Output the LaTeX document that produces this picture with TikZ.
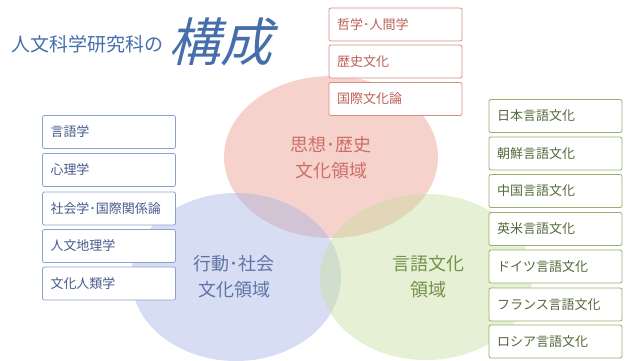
\documentclass[tikz,border=0pt]{standalone}
\usepackage{fontspec}
\newfontfamily\cjk{Noto Sans CJK JP}
\newfontfamily\cjkslant[FakeSlant=0.25]{Noto Sans CJK JP}
\definecolor{titleblue}{RGB}{70,110,170}
\definecolor{redfill}{RGB}{236,155,145}
\definecolor{bluefill}{RGB}{160,175,225}
\definecolor{greenfill}{RGB}{200,222,160}
\definecolor{redline}{RGB}{215,140,130}
\definecolor{redtext}{RGB}{190,95,85}
\definecolor{blueline}{RGB}{140,160,205}
\definecolor{bluetext}{RGB}{70,90,140}
\definecolor{greenline}{RGB}{150,175,105}
\definecolor{greentext}{RGB}{85,105,60}
\definecolor{redlabel}{RGB}{205,110,100}
\definecolor{bluelabel}{RGB}{95,115,165}
\definecolor{greenlabel}{RGB}{115,145,75}
\tikzset{
  itembox/.style={draw, line width=0.8pt, rounded corners=2pt, fill=white,
    minimum height=33pt, text width=117pt, inner xsep=8pt, inner ysep=0pt,
    align=left, font=\cjk\fontsize{13}{15}\selectfont},
  redbox/.style={itembox, draw=redline, text=redtext},
  bluebox/.style={itembox, draw=blueline, text=bluetext},
  greenbox/.style={itembox, draw=greenline, text=greentext},
  arealabel/.style={align=center, font=\cjk\fontsize{18}{26}\selectfont}
}
\begin{document}
\begin{tikzpicture}[x=1pt,y=-1pt]
\useasboundingbox (0,0) rectangle (625,360);
% ellipses
\fill[redfill, opacity=0.45] (331,157) ellipse [x radius=107pt, y radius=81pt];
\fill[bluefill, opacity=0.42] (236,277) ellipse [x radius=105pt, y radius=84pt];
\fill[greenfill, opacity=0.45] (426,277) ellipse [x radius=106pt, y radius=83pt];
% title
\node[anchor=base west, inner sep=0pt, text=titleblue, font=\cjk\fontsize{19}{22}\selectfont] (title1) at (11,51) {人文科学研究科の};
\node[anchor=base west, inner sep=0pt, text=titleblue, font=\cjkslant\fontsize{52}{56}\selectfont] (title2) at (168,61) {構成};
% area labels
\node[arealabel, text=redlabel] (redarea) at (331,158) {思想･歴史\\文化領域};
\node[arealabel, text=bluelabel] (bluearea) at (234,277) {行動･社会\\文化領域};
\node[arealabel, text=greenlabel] (greenarea) at (428,277) {言語文化\\領域};
% red boxes
\node[redbox] (r1) at (395.5,24.5) {哲学･人間学};
\node[redbox] (r2) at (395.5,61.5) {歴史文化};
\node[redbox] (r3) at (395.5,99) {国際文化論};
% blue boxes
\node[bluebox] (b1) at (109,132) {言語学};
\node[bluebox] (b2) at (109,170) {心理学};
\node[bluebox] (b3) at (109,208.5) {社会学･国際関係論};
\node[bluebox] (b4) at (109,246) {人文地理学};
\node[bluebox] (b5) at (109,283.5) {文化人類学};
% green boxes
\node[greenbox] (g1) at (555.5,116) {日本言語文化};
\node[greenbox] (g2) at (555.5,153.5) {朝鮮言語文化};
\node[greenbox] (g3) at (555.5,191) {中国言語文化};
\node[greenbox] (g4) at (555.5,229) {英米言語文化};
\node[greenbox] (g5) at (555.5,266.5) {ドイツ言語文化};
\node[greenbox] (g6) at (555.5,304.5) {フランス言語文化};
\node[greenbox] (g7) at (555.5,341.5) {ロシア言語文化};
\end{tikzpicture}
\end{document}
